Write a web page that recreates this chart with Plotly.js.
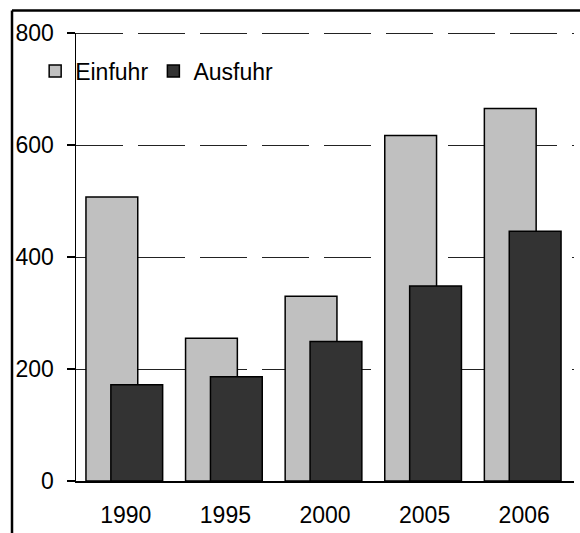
<!DOCTYPE html>
<html>
<head>
<meta charset="utf-8">
<script src="https://cdn.plot.ly/plotly-3.0.1.min.js"></script>
<style>
html,body{margin:0;padding:0;background:#fff;}
#chart{width:580px;height:533px;}
</style>
</head>
<body>
<div id="chart"></div>
<script>
var years = ["1990", "1995", "2000", "2005", "2006"];
var einfuhr = [507, 255, 330, 617, 665];
var ausfuhr = [172, 186, 249, 348, 446];
var yTicks = [0, 200, 400, 600, 800];

var font = {family: "Liberation Sans, Arial, sans-serif", size: 23, color: "#000"};

var traces = [
  {
    type: "bar", name: "Einfuhr", x: years, y: einfuhr,
    offset: -0.4, width: 0.52,
    marker: {color: "#C0C0C0", line: {color: "#000", width: 1.5}},
    hoverinfo: "skip"
  },
  {
    type: "bar", name: "Ausfuhr", x: years, y: ausfuhr,
    offset: -0.15, width: 0.52,
    marker: {color: "#333333", line: {color: "#000", width: 1.5}},
    hoverinfo: "skip"
  }
];

var layout = {
  width: 580, height: 533,
  margin: {l: 76, r: 6, t: 33, b: 52},
  paper_bgcolor: "#fff", plot_bgcolor: "#fff",
  font: font,
  barmode: "overlay",
  showlegend: true,
  legend: {
    orientation: "h", x: -0.082, xanchor: "left", y: 0.915, yanchor: "middle",
    bgcolor: "rgba(0,0,0,0)", font: font, traceorder: "normal"
  },
  xaxis: {
    type: "category",
    showline: true, linecolor: "#000", linewidth: 2,
    showgrid: false, zeroline: false,
    ticks: "outside", ticklen: 12, tickcolor: "rgba(0,0,0,0)",
    tickfont: font, fixedrange: true
  },
  yaxis: {
    range: [0, 800], tickvals: yTicks, ticktext: yTicks.map(String),
    showline: true, linecolor: "#000", linewidth: 1.5,
    ticks: "outside", ticklen: 8, tickcolor: "#000", tickwidth: 1.5,
    showgrid: true, gridcolor: "#222", gridwidth: 1, griddash: "47px,15px",
    zeroline: false, tickfont: font, ticklabelstandoff: 8, fixedrange: true
  },
  shapes: [
    {type: "line", xref: "paper", yref: "y", x0: 0, x1: 1, y0: 799.1, y1: 799.1,
     line: {color: "#222", width: 1, dash: "47px,15px"}, layer: "below"},
    {type: "line", xref: "paper", yref: "paper", x0: -0.1285, x1: 1.02, y0: 1.05, y1: 1.05,
     line: {color: "#000", width: 2.5}},
    {type: "line", xref: "paper", yref: "paper", x0: -0.1285, x1: -0.1285, y0: 1.05, y1: -0.12,
     line: {color: "#000", width: 2.5}}
  ]
};

Plotly.newPlot("chart", traces, layout, {staticPlot: true, displayModeBar: false});
</script>
</body>
</html>
